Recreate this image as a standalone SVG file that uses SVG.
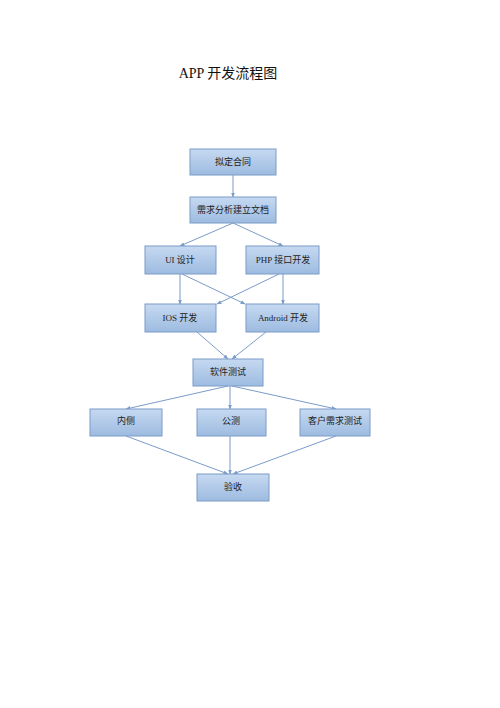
<svg xmlns="http://www.w3.org/2000/svg" width="500" height="708" viewBox="0 0 500 708">
<defs>
<linearGradient id="g" x1="0" y1="0" x2="0" y2="1">
<stop offset="0" stop-color="#c6d9f1"/>
<stop offset="1" stop-color="#9dbbe0"/>
</linearGradient>
<marker id="a" viewBox="0 0 10 10" refX="9" refY="5" markerWidth="5" markerHeight="5" orient="auto">
<path d="M0,1 L10,5 L0,9 z" fill="#7a9cc8"/>
</marker>
<style>
.n rect{fill:url(#g);stroke:#7a9cc8;stroke-width:1}
.n text{font-family:"Liberation Serif","Noto Sans CJK SC",serif;font-size:9px;fill:#222;text-anchor:middle}
#c line{stroke:#7a9cc8;stroke-width:1;marker-end:url(#a)}
</style>
</defs>
<rect width="500" height="708" fill="#fff"/>
<text x="228" y="78" font-family="'Liberation Serif','Noto Sans CJK SC',serif" font-size="14" text-anchor="middle" fill="#111">APP 开发流程图</text>
<g id="c">
<line x1="233" y1="175" x2="233" y2="197"/>
<line x1="233" y1="223" x2="180" y2="246"/>
<line x1="233" y1="223" x2="283" y2="246"/>
<line x1="180" y1="274" x2="180" y2="304"/>
<line x1="283" y1="274" x2="283" y2="304"/>
<line x1="182" y1="274" x2="245" y2="304"/>
<line x1="279" y1="274" x2="217" y2="304"/>
<line x1="197" y1="332" x2="228" y2="359"/>
<line x1="266" y1="332" x2="232" y2="359"/>
<line x1="228" y1="386" x2="126" y2="409"/>
<line x1="230" y1="386" x2="230" y2="409"/>
<line x1="232" y1="386" x2="336" y2="409"/>
<line x1="126" y1="436" x2="228" y2="474"/>
<line x1="230" y1="436" x2="230" y2="474"/>
<line x1="336" y1="436" x2="233" y2="474"/>
</g>
<g id="n1" class="n"><rect x="190" y="149" width="86" height="26"/><text x="233" y="165">拟定合同</text></g>
<g id="n2" class="n"><rect x="190" y="197" width="86" height="26"/><text x="233" y="213">需求分析建立文档</text></g>
<g id="n3" class="n"><rect x="145" y="246" width="71" height="28"/><text x="180" y="263">UI 设计</text></g>
<g id="n4" class="n"><rect x="246" y="246" width="73" height="28"/><text x="283" y="263">PHP 接口开发</text></g>
<g id="n5" class="n"><rect x="145" y="304" width="71" height="28"/><text x="180" y="321">IOS 开发</text></g>
<g id="n6" class="n"><rect x="246" y="304" width="73" height="28"/><text x="283" y="321">Android 开发</text></g>
<g id="n7" class="n"><rect x="193" y="359" width="70" height="27"/><text x="228" y="375">软件测试</text></g>
<g id="n8" class="n"><rect x="90" y="409" width="72" height="27"/><text x="126" y="424">内侧</text></g>
<g id="n9" class="n"><rect x="197" y="409" width="69" height="27"/><text x="231" y="424">公测</text></g>
<g id="n10" class="n"><rect x="300" y="409" width="70" height="27"/><text x="335" y="424">客户需求测试</text></g>
<g id="n11" class="n"><rect x="197" y="474" width="72" height="27"/><text x="233" y="490">验收</text></g>
</svg>
